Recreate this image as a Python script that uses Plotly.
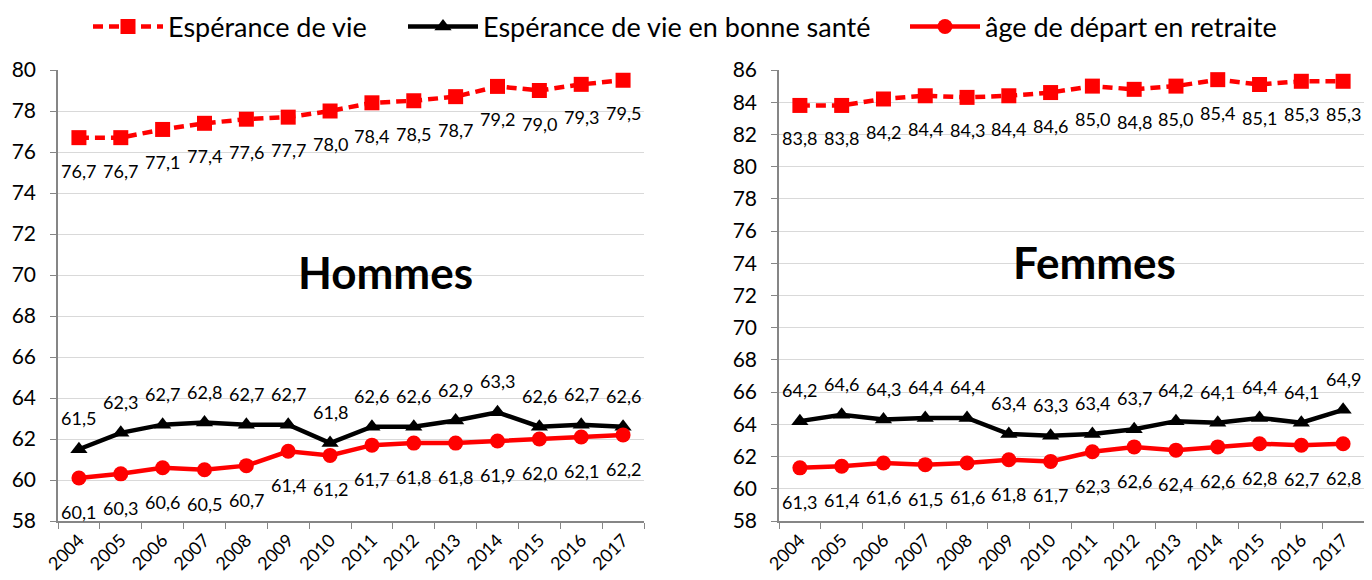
import plotly.graph_objects as go

years = [str(y) for y in range(2004, 2018)]

# Hommes
h_ev = [76.7, 76.7, 77.1, 77.4, 77.6, 77.7, 78.0, 78.4, 78.5, 78.7, 79.2, 79.0, 79.3, 79.5]
h_bs = [61.5, 62.3, 62.7, 62.8, 62.7, 62.7, 61.8, 62.6, 62.6, 62.9, 63.3, 62.6, 62.7, 62.6]
h_ret = [60.1, 60.3, 60.6, 60.5, 60.7, 61.4, 61.2, 61.7, 61.8, 61.8, 61.9, 62.0, 62.1, 62.2]

# Femmes
f_ev = [83.8, 83.8, 84.2, 84.4, 84.3, 84.4, 84.6, 85.0, 84.8, 85.0, 85.4, 85.1, 85.3, 85.3]
f_bs = [64.2, 64.6, 64.3, 64.4, 64.4, 63.4, 63.3, 63.4, 63.7, 64.2, 64.1, 64.4, 64.1, 64.9]
f_ret = [61.3, 61.4, 61.6, 61.5, 61.6, 61.8, 61.7, 62.3, 62.6, 62.4, 62.6, 62.8, 62.7, 62.8]

names = ["Espérance de vie", "Espérance de vie en bonne santé", "âge de départ en retraite"]

FONT = "Lato"
RED = "#ff0000"
BLACK = "#000000"
GRID = "#d9d9d9"
AXIS = "#868686"

# page body has an 8px margin: build the figure in page coordinates minus 8px
OFF = 8
W, H = 1372 - 2 * OFF, 580 - OFF
TOP, BOTTOM = 70 - OFF, 521 - OFF

def px(xabs):
    return (xabs - OFF) / W

def py(yabs):
    return (BOTTOM - (yabs - OFF)) / (BOTTOM - TOP)

def fmt(v):
    return f"{v:.1f}".replace(".", ",")

fig = go.Figure()

styles = [
    dict(line=dict(color=RED, width=4.5, dash="10px,6px"), marker=dict(symbol="square", size=15, color=RED)),
    dict(line=dict(color=BLACK, width=4.5), marker=dict(symbol="triangle-up", size=15, color=BLACK)),
    dict(line=dict(color=RED, width=4.5), marker=dict(symbol="circle", size=15, color=RED)),
]
shifts = [-33, 31, -34]
legend_ids = ["legend", "legend2", "legend3"]

panels = [("x", "y", [h_ev, h_bs, h_ret]), ("x2", "y2", [f_ev, f_bs, f_ret])]
annotations = []
for pi, (xa, ya, series) in enumerate(panels):
    for si, vals in enumerate(series):
        fig.add_trace(go.Scatter(
            x=years, y=vals, mode="lines+markers", name=names[si],
            xaxis=xa, yaxis=ya, showlegend=(pi == 0), legend=legend_ids[si],
            line=styles[si]["line"], marker=styles[si]["marker"],
            hoverinfo="skip",
        ))
        for i, v in enumerate(vals):
            annotations.append(dict(
                x=i, y=v, xref=xa, yref=ya, text=fmt(v), showarrow=False,
                yshift=shifts[si], font=dict(family=FONT, size=18, color="#000000"),
            ))

annotations.append(dict(x=px(385), y=py(272), xref="paper", yref="paper", text="<b>Hommes</b>",
                        xanchor="center", yanchor="middle", showarrow=False,
                        font=dict(family=FONT, size=44, color="#000000")))
annotations.append(dict(x=px(1094), y=py(262), xref="paper", yref="paper", text="<b>Femmes</b>",
                        xanchor="center", yanchor="middle", showarrow=False,
                        font=dict(family=FONT, size=44, color="#000000")))

xcommon = dict(type="category", tickson="boundaries", ticks="outside", ticklen=6, tickcolor=AXIS,
               showline=True, linecolor=AXIS, linewidth=1.5, showgrid=False, tickangle=-45,
               tickfont=dict(family=FONT, size=18, color="#000000"), range=[-0.5, 13.5],
               automargin=False)
ycommon = dict(dtick=2, ticks="outside", ticklen=6, tickcolor=AXIS, showline=True, linecolor=AXIS,
               linewidth=1.5, showgrid=True, gridcolor=GRID, gridwidth=1, zeroline=False,
               tickfont=dict(family=FONT, size=21, color="#000000"), automargin=False,
               ticklabelstandoff=10)

leg_x = [93, 408, 910]
legends = {}
for lid, xabs in zip(legend_ids, leg_x):
    legends[lid] = dict(orientation="h", x=px(xabs) - 5 / W, xanchor="left", xref="container",
                        y=1 - 19 / H, yanchor="middle", yref="container",
                        font=dict(family=FONT, size=27, color="#000000"), itemwidth=70,
                        bgcolor="rgba(0,0,0,0)")

fig.update_layout(
    width=W, height=H,
    margin=dict(l=0, r=0, t=TOP, b=H - BOTTOM),
    paper_bgcolor="white", plot_bgcolor="white",
    font=dict(family=FONT, color="#000000"),
    xaxis=dict(domain=[px(58), px(644)], anchor="y", **xcommon),
    yaxis=dict(domain=[0, 1], anchor="x", range=[58, 80], **ycommon),
    xaxis2=dict(domain=[px(779), px(1364)], anchor="y2", **xcommon),
    yaxis2=dict(domain=[0, 1], anchor="x2", range=[58, 86], **ycommon),
    annotations=annotations,
    showlegend=True,
    **legends,
)

fig.write_html("out.html")
